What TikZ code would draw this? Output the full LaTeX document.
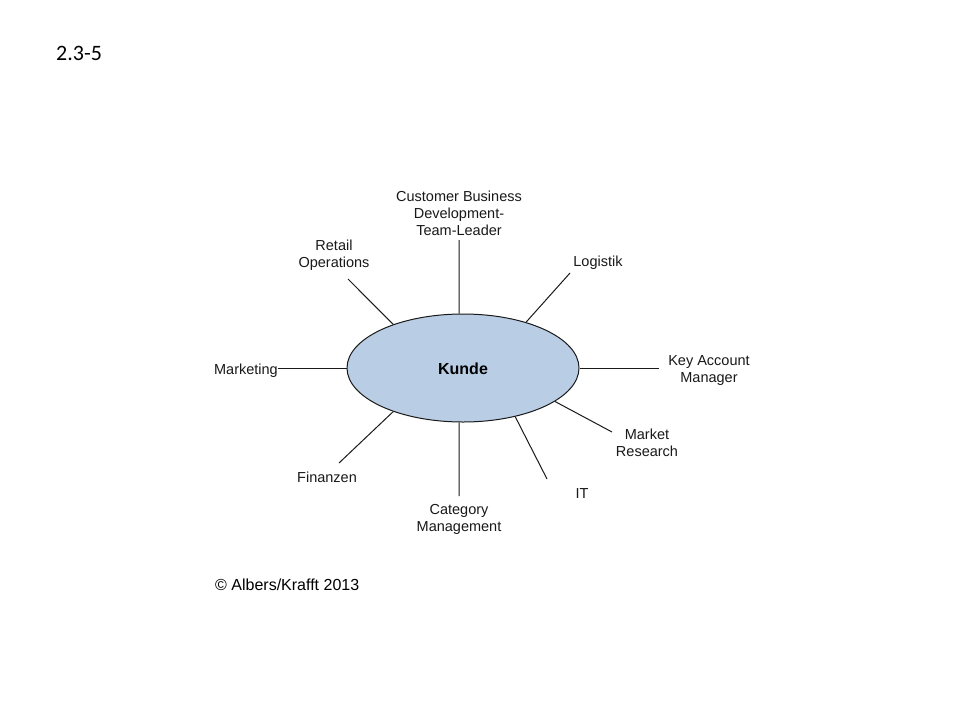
\documentclass[tikz,border=0pt]{standalone}
\usepackage{fontspec}
\setmainfont{Liberation Sans}
\newfontfamily\titlefont{Carlito}
\usetikzlibrary{shapes.geometric}
\definecolor{kundefill}{HTML}{B9CDE5}
\definecolor{linecol}{HTML}{1A1A1A}
\begin{document}
\begin{tikzpicture}[x=1pt,y=-1pt,
  spoke/.style={draw=linecol,line width=1pt},
  lbl/.style={inner sep=0pt,align=center,font=\fontsize{14.5}{17}\selectfont,text=black!90},
  hub/.style={ellipse,draw=linecol,line width=1pt,fill=kundefill,minimum width=232pt,minimum height=108pt,inner sep=0pt,font=\fontsize{16}{19}\selectfont\bfseries}]
\useasboundingbox (0,0) rectangle (960,720);
\fill[white] (0,0) rectangle (960,720);

\node[anchor=base west,inner sep=0pt,font=\titlefont\fontsize{22}{26}\selectfont] (title) at (56,60) {2.3-5};

\node[hub] (kunde) at (463,368) {};
\node[inner sep=0pt,font=\fontsize{16}{19}\selectfont\bfseries] (kundetext) at (463,369) {Kunde};

% free ends
\coordinate (eCBD) at (459,240);
\coordinate (eRet) at (348,279);
\coordinate (eLog) at (570,273);
\coordinate (eMkt) at (278,368);
\coordinate (eKey) at (659,368);
\coordinate (eMR) at (612,432);
\coordinate (eIT) at (547,479);
\coordinate (eCat) at (459,496);
\coordinate (eFin) at (339,463);

\draw[spoke] (kunde.94) -- (eCBD);
\draw[spoke] (kunde.148) -- (eRet);
\draw[spoke] (kunde.36) -- (eLog);
\draw[spoke] (kunde.west) -- (eMkt);
\draw[spoke] (kunde.east) -- (eKey);
\draw[spoke] (kunde.-20) -- (eMR);
\draw[spoke] (kunde.-43) -- (eIT);
\draw[spoke] (kunde.-94) -- (eCat);
\draw[spoke] (kunde.212) -- (eFin);

\node[lbl] (cbd) at (459,213) {Customer Business\\Development-\\Team-Leader};
\node[lbl] (ret) at (334,255) {Retail\\Operations};
\node[lbl,anchor=base] (log) at (598,266) {Logistik};
\node[lbl,anchor=base east] (mkt) at (278,374) {Marketing};
\node[lbl] (key) at (709,371) {Key Account\\Manager};
\node[lbl] (mr) at (647,443) {Market\\Research};
\node[lbl,anchor=base] (it) at (582,498) {IT};
\node[lbl] (cat) at (459,519) {Category\\Management};
\node[lbl,anchor=base] (fin) at (327,482) {Finanzen};

\node[anchor=base west,inner sep=0pt,font=\fontsize{16}{19}\selectfont] (copy) at (215,590) {© Albers/Krafft 2013};
\end{tikzpicture}
\end{document}
